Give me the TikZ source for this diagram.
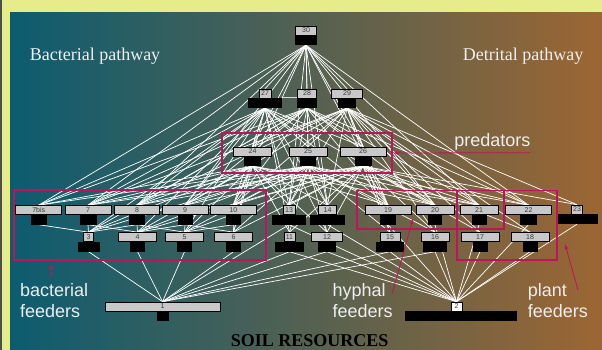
\documentclass[tikz,border=0pt]{standalone}
\usepackage{fontspec}
\setmainfont{Liberation Serif}
\setsansfont{Liberation Sans}
\usetikzlibrary{arrows}
\definecolor{strawbg}{HTML}{E6EC8A}
\definecolor{tealbg}{HTML}{0C5C70}
\definecolor{midbg}{HTML}{5F5C58}
\definecolor{brownbg}{HTML}{9C6633}
\definecolor{webred}{HTML}{C0145A}
\definecolor{boxgray}{HTML}{C8C8C8}
\definecolor{numgray}{HTML}{3A3A3A}
\definecolor{offwhite}{HTML}{EEEEEE}
\pgfdeclarelayer{bg}
\pgfdeclarelayer{web}
\pgfsetlayers{bg,web,main}

\begin{document}
\begin{tikzpicture}[x=1pt,y=-1pt]
        \tikzset{spbox/.style={draw=black,line width=0.7pt,fill=boxgray,inner sep=0pt,minimum height=9pt,
                font=\sffamily\fontsize{7}{7}\selectfont,text=numgray}}
        \tikzset{spbar/.style={fill=black,inner sep=0pt,minimum height=10pt}}
        \tikzset{link/.style={white,line width=0.7pt}}
        \tikzset{grp/.style={draw=webred,line width=1.8pt,inner sep=0pt}}
        \tikzset{pointer/.style={->,>=latex,webred,line width=0.8pt}}
        \tikzset{bigtxt/.style={inner sep=0pt,text=offwhite,font=\sffamily\fontsize{18}{21}\selectfont,align=left}}
        \useasboundingbox (0,0) rectangle (602,350);
        \begin{pgfonlayer}{bg}
        \fill[strawbg] (0,0) rectangle (602,350);
        \shade[left color=tealbg,middle color=midbg,right color=brownbg] (10,13) rectangle (602,350);
        \draw[black!70,line width=1.5pt] (0.75,0) -- (0.75,350);
        \end{pgfonlayer}
        % species: number / x / top of box / box width / bar width
        \foreach \n/\x/\y/\gw/\bw in {30/306/26/21/22, 27/265/89/12/34, 28/307/89/19/20, 29/347/89/31/18,
                24/252.5/147/38/17, 25/308/147/38/16, 26/363/147/46/17,
                7bis/38.7/205.5/46/16, 7/88/205.5/46/17, 8/137/205.5/45/16, 9/185/205.5/46/15, 10/233.3/205.5/46/15,
                13/289/205.5/12/34, 14/327.5/205.5/18/35, 19/388/205.5/46/16, 20/435/205.5/38/14,
                21/479/205.5/38/15, 22/528.5/205.5/46/17, 23/577/205/11/41,
                3/88.5/232.5/10/22, 4/137.5/232.5/38/15, 5/184.5/232.5/38/15, 6/233.5/232.5/38/15,
                11/289.5/232.5/11/29, 12/327/232.5/31/18, 15/390/232.5/20/28, 16/435/232.5/28/24,
                17/480/232.5/38/15, 18/530/232.5/38/15}{
            \node[spbox,minimum width=\gw*1pt] (s\n) at (\x,\y+4.5) {\n};
            \node[spbar,minimum width=\bw*1pt] (b\n) at (\x,\y+14) {};
        }
        \node[spbox,minimum width=115pt] (s1) at (162.5,306.5) {1};
        \node[spbar,minimum width=12pt] (b1) at (163,316) {};
        \node[spbox,fill=white,minimum width=11pt] (s2) at (456.5,306.5) {2};
        \node[spbar,minimum width=112pt] (b2) at (461,315.5) {};
        % who eats whom
        \begin{pgfonlayer}{web}
        \foreach \p/\qs in {30/{27,28,29,24,25,26,7bis,7,8,9,10,13,14,19,20,21,22},
                27/{24,25,26,7bis,7,8,9,10,3,4,5,6,13,14,11,12,19,20},
                28/{24,25,26,7bis,7,8,9,10,3,13,14,19,20,21,22},
                29/{24,25,26,7,8,9,10,13,14,19,20,21,22,23,15,16,17,18},
                24/{7bis,7,8,9,10,3,4,5,6,13,14,11,12,19,20,21},
                25/{7bis,7,8,9,10,3,4,5,6,13,14,11,12,19,20,21,22,15,16},
                26/{7,8,9,10,4,5,6,13,14,11,12,19,20,21,22,23,15,16,17,18},
                7bis/{3}, 7/{3,4}, 8/{3,4,5}, 9/{4,5,6}, 10/{5,6},
                3/{1}, 4/{1}, 5/{1}, 6/{1}, 11/{1,2}, 12/{1,2}, 13/{1,2}, 14/{2},
                15/{1,2}, 16/{1,2}, 17/{2}, 18/{2}, 19/{2}, 20/{2}, 21/{2}, 22/{2}, 23/{2}}
            \foreach \q in \qs
                \draw[link] (b\p.south) -- (s\q.north);
        \draw[link,gray!30] (b27.north east) -- (b28.north west);
        \end{pgfonlayer}
        % groups
        \node[grp,minimum width=252pt,minimum height=69.7pt] (bactbox) at (140,225.15) {};
        \node[grp,minimum width=170pt,minimum height=39.4pt] (predbox) at (307.3,153) {};
        \node[grp,minimum width=147pt,minimum height=38.8pt] (hyphbox) at (430.5,209.9) {};
        \node[grp,minimum width=100.3pt,minimum height=69.5pt] (plantbox) at (506.85,225.25) {};
        % labels
        \node[anchor=base,inner sep=0pt,text=offwhite,font=\fontsize{18}{21}\selectfont] (bpath) at (95,60.7) {Bacterial pathway};
        \node[anchor=base,inner sep=0pt,text=offwhite,font=\fontsize{18}{21}\selectfont] (dpath) at (523.2,60.7) {Detrital pathway};
        \node[anchor=base,inner sep=0pt,font=\bfseries\fontsize{18}{21}\selectfont] (soil) at (309.7,346.5) {SOIL RESOURCES};
        \node[bigtxt,anchor=base] (pred) at (492.3,146.2) {predators};
        \node[bigtxt,anchor=north west] (bact) at (20,283) {bacterial\\feeders};
        \node[bigtxt,anchor=north west] (hyph) at (332.3,283) {hyphal\\feeders};
        \node[bigtxt,anchor=north west] (plant) at (527.7,283) {plant\\feeders};
        % pointers
        \coordinate (pend) at (530,152.7);
        \coordinate (bt) at (51,277);
        \coordinate (bh) at (51,264);
        \coordinate (ht) at (392,294);
        \coordinate (hh) at (413,218.5);
        \coordinate (pt) at (578,290);
        \coordinate (ph) at (565,244);
        \draw[pointer] (pend) -- (predbox.east);
        \draw[pointer] (bt) -- (bh);
        \draw[pointer] (ht) -- (hh);
        \draw[pointer] (pt) -- (ph);
\end{tikzpicture}
\end{document}
